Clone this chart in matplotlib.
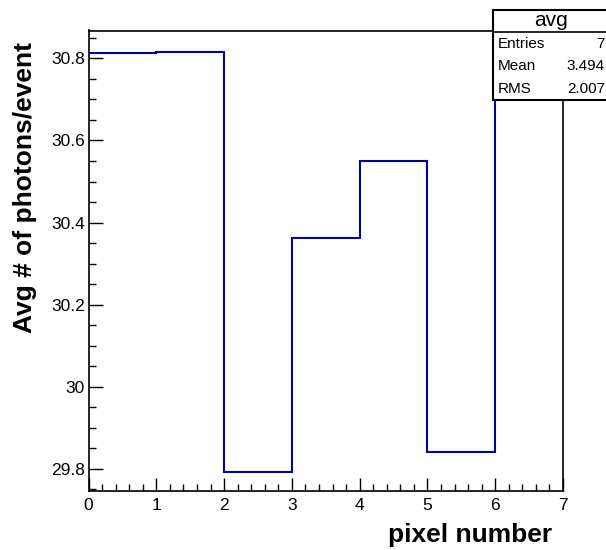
import numpy as np
import matplotlib.pyplot as plt
from matplotlib.patches import Rectangle
from matplotlib.ticker import MultipleLocator

plt.rcParams['font.family'] = ['Liberation Sans', 'DejaVu Sans']

# bin edges and average photons per pixel
edges = [0, 1, 2, 3, 4, 5, 6, 7]
avg_photons = [30.813, 30.815, 29.793, 30.363, 30.550, 29.840, 30.780]
stats_names = ["Entries", "Mean", "RMS"]
stats_vals = ["7", "3.494", "2.007"]

W, H = 606, 550
fig = plt.figure(figsize=(W / 100, H / 100), dpi=100)
ax = fig.add_axes([88.5 / W, 1 - 491 / H, (563 - 88.5) / W, (491 - 30.5) / H])

ax.stairs(avg_photons, edges, color="#000099", linewidth=1.5, baseline=None)

ax.set_xlim(0, 7)
ax.set_ylim(29.746, 30.868)
ax.xaxis.set_major_locator(MultipleLocator(1))
ax.xaxis.set_minor_locator(MultipleLocator(0.2))
ax.yaxis.set_minor_locator(MultipleLocator(0.05))
ax.tick_params(which="major", direction="in", length=9.5, width=1, labelsize=12.5)
ax.tick_params(which="minor", direction="in", length=4.8, width=1)
ax.tick_params(axis="x", which="major", pad=5)
ax.tick_params(axis="y", which="major", length=10, pad=2.5)
ax.set_yticks([29.8, 30.0, 30.2, 30.4, 30.6, 30.8])
ax.set_yticklabels(["29.8", "30", "30.2", "30.4", "30.6", "30.8"])
for s in ax.spines.values():
    s.set_linewidth(1.2)

fig.text(552 / W, 1 - 535 / H, "pixel number", ha="right", va="center",
         fontsize=19, fontweight="bold")
fig.text(25 / W, 1 - 42 / H, "Avg # of photons/event", ha="center", va="top",
         rotation=90, fontsize=19, fontweight="bold")

# stats box
box_l, box_t, box_b, sep = 493, 10, 100, 32
fig.add_artist(Rectangle((box_l / W, 1 - box_b / H), (W - box_l + 5) / W, (box_b - box_t) / H,
                         transform=fig.transFigure, facecolor="white", edgecolor="black",
                         linewidth=1.5, zorder=5))
fig.add_artist(plt.Line2D([box_l / W, 1], [1 - sep / H, 1 - sep / H], transform=fig.transFigure,
                          color="black", linewidth=1.2, zorder=6))
fig.text(551 / W, 1 - 20 / H, "avg", ha="center", va="center", fontsize=15, zorder=7)
for i, (n, v) in enumerate(zip(stats_names, stats_vals)):
    y = 1 - (44 + 22.5 * i) / H
    fig.text(498 / W, y, n, ha="left", va="center", fontsize=11, zorder=7)
    fig.text(605 / W, y, v, ha="right", va="center", fontsize=11, zorder=7)

fig.savefig("out.png", dpi=100)
